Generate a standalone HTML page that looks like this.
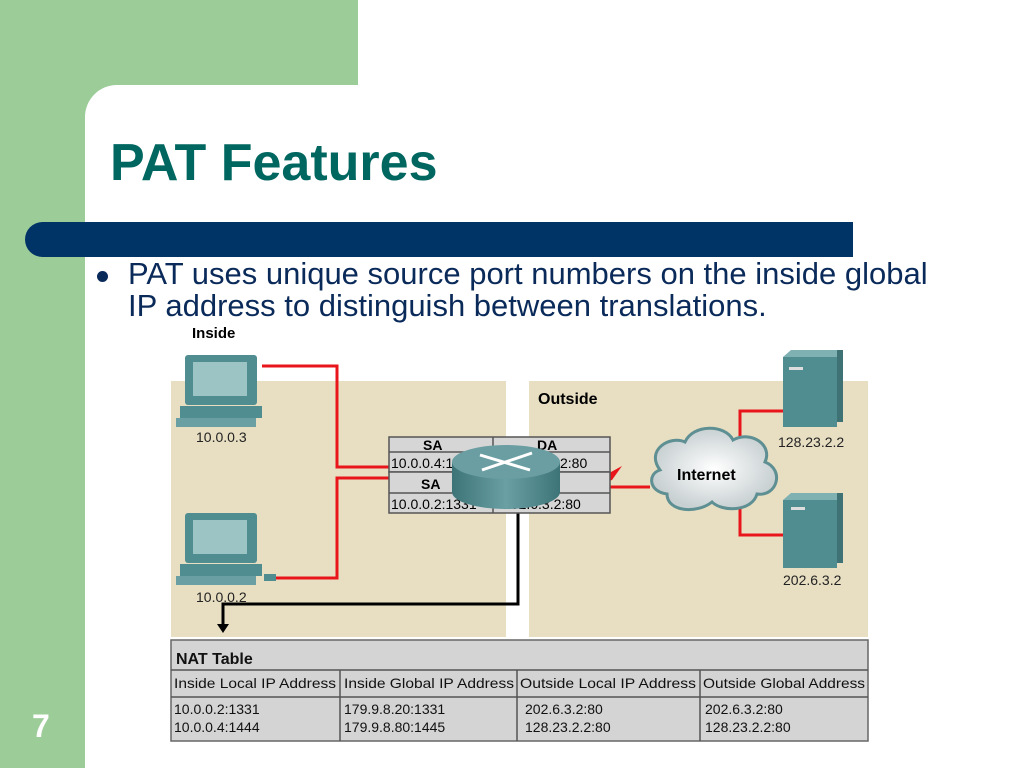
<!DOCTYPE html>
<html><head><meta charset="utf-8"><style>
body{margin:0;width:1024px;height:768px;overflow:hidden;background:#fff;font-family:"Liberation Sans",sans-serif;position:relative}
.a{position:absolute}
</style></head><body>
<div class="a" style="left:0;top:0;width:85px;height:768px;background:#9ccc98"></div>
<div class="a" style="left:0;top:0;width:358px;height:85px;background:#9ccc98"></div>
<div class="a" style="left:85px;top:85px;width:40px;height:40px;background:#9ccc98"></div>
<div class="a" style="left:85px;top:85px;width:60px;height:60px;background:#fff;border-top-left-radius:32px"></div>
<div class="a" style="left:110px;top:133px;font-size:52px;font-weight:bold;color:#006660">PAT Features</div>
<div class="a" style="left:25px;top:222px;width:828px;height:35px;background:#003366;border-radius:18px 0 0 18px"></div>
<div class="a" style="left:97px;top:271px;width:11px;height:11px;border-radius:50%;background:#0a2a5a"></div>
<div class="a" style="left:128px;top:258px;font-size:31px;line-height:32px;color:#0a2a5a;white-space:nowrap">PAT uses unique source port numbers on the inside global<br>IP address to distinguish between translations.</div>
<div class="a" style="left:32px;top:708px;font-size:32px;font-weight:bold;color:#fff">7</div>
<svg class="a" style="left:0;top:0" width="1024" height="768" font-family="Liberation Sans, sans-serif">
<rect x="171" y="381" width="335" height="256" fill="#e8dfc3"/>
<rect x="529" y="381" width="339" height="256" fill="#e8dfc3"/>
<text x="192" y="338" font-size="15" font-weight="bold">Inside</text>
<text x="538" y="404" font-size="16" font-weight="bold">Outside</text>
<g stroke="#e8161b" stroke-width="3" fill="none">
<polyline points="262,366 337,366 337,467 392,467"/>
<polyline points="275,578 337,578 337,478 392,478"/>
<polyline points="610,487 650,487"/>
<polyline points="740,445 740,411 785,411"/>
<polyline points="740,505 740,535 785,535"/>
</g>
<polygon points="600,478 622,466 612,480 606,482" fill="#e8161b"/>
<polyline points="518,513 518,604 223,604 223,628" stroke="#000" stroke-width="3" fill="none"/>
<polygon points="217,624 229,624 223,633" fill="#000"/>
<g stroke="#555" stroke-width="1.5">
<rect x="389" y="437" width="221" height="35" fill="#d6d6d6"/>
<rect x="389" y="472" width="221" height="41" fill="#d6d6d6"/>
<line x1="389" y1="452" x2="610" y2="452"/><line x1="389" y1="493" x2="610" y2="493"/>
<line x1="493" y1="437" x2="493" y2="513"/>
</g>
<g font-size="14" fill="#000">
<text x="423" y="450" font-weight="bold">SA</text><text x="537" y="450" font-weight="bold">DA</text>
<text x="391" y="468">10.0.0.4:1444</text><text x="560" y="468">2:80</text>
<text x="421" y="489" font-weight="bold">SA</text>
<text x="391" y="509">10.0.0.2:1331</text><text x="503" y="509">202.6.3.2:80</text>
</g>
<defs><linearGradient id="rg" x1="0" x2="1"><stop offset="0" stop-color="#3d7478"/><stop offset=".5" stop-color="#6aa0a4"/><stop offset="1" stop-color="#3d7478"/></linearGradient>
<radialGradient id="cg"><stop offset="0" stop-color="#fff"/><stop offset="1" stop-color="#c8d0d2"/></radialGradient></defs>
<path d="M452,462 v30 a54,17 0 0 0 108,0 v-30 z" fill="url(#rg)"/>
<ellipse cx="506" cy="462" rx="54" ry="17" fill="#6b9ea2"/>
<g stroke="#fff" stroke-width="3"><line x1="480" y1="455" x2="530" y2="470"/><line x1="532" y1="453" x2="482" y2="470"/></g>
<g fill="url(#cg)" stroke="#5e8f92" stroke-width="3">
<path d="M660,470 c-15,-20 10,-35 25,-28 c8,-18 40,-18 48,-2 c18,-10 40,5 32,22 c20,8 12,35 -8,32 c-5,18 -35,18 -45,8 c-15,12 -45,10 -45,-8 c-18,-2 -20,-20 -7,-24 z"/>
</g>
<text x="677" y="480" font-size="16" font-weight="bold">Internet</text>
<g fill="#4f8d90">
<rect x="185" y="355" width="72" height="50" rx="3"/><rect x="193" y="362" width="54" height="34" fill="#9cc4c4"/>
<rect x="180" y="406" width="82" height="12"/><rect x="176" y="418" width="80" height="9" fill="#6aa0a3"/>
<rect x="185" y="513" width="72" height="50" rx="3"/><rect x="193" y="520" width="54" height="34" fill="#9cc4c4"/>
<rect x="180" y="564" width="82" height="12"/><rect x="176" y="576" width="80" height="9" fill="#6aa0a3"/>
<rect x="264" y="574" width="12" height="7"/>
<rect x="783" y="357" width="54" height="70"/><polygon points="783,357 791,350 843,350 837,357" fill="#7fb0b2"/><rect x="837" y="350" width="6" height="72" fill="#3f7275"/>
<rect x="783" y="500" width="54" height="68"/><polygon points="783,500 791,493 843,493 837,500" fill="#7fb0b2"/><rect x="837" y="493" width="6" height="70" fill="#3f7275"/>
</g>
<rect x="789" y="367" width="14" height="3" fill="#ddd"/><rect x="791" y="507" width="14" height="3" fill="#ddd"/>
<g font-size="14" fill="#222">
<text x="196" y="442">10.0.0.3</text><text x="196" y="602">10.0.0.2</text>
<text x="778" y="447">128.23.2.2</text><text x="783" y="585">202.6.3.2</text>
</g>
<rect x="171" y="640" width="697" height="101" fill="#d4d4d4" stroke="#666" stroke-width="1.5"/>
<g stroke="#555" stroke-width="1.5">
<line x1="171" y1="670" x2="868" y2="670"/><line x1="171" y1="697" x2="868" y2="697"/>
<line x1="340" y1="670" x2="340" y2="741"/><line x1="517" y1="670" x2="517" y2="741"/><line x1="700" y1="670" x2="700" y2="741"/>
</g>
<g font-size="14" fill="#111">
<text x="176" y="664" font-size="16" font-weight="bold">NAT Table</text>
<text x="174" y="688" textLength="162" lengthAdjust="spacingAndGlyphs">Inside Local IP Address</text>
<text x="344" y="688" textLength="170" lengthAdjust="spacingAndGlyphs">Inside Global IP Address</text>
<text x="520" y="688" textLength="176" lengthAdjust="spacingAndGlyphs">Outside Local IP Address</text>
<text x="703" y="688" textLength="162" lengthAdjust="spacingAndGlyphs">Outside Global Address</text>
<text x="174" y="714">10.0.0.2:1331</text><text x="344" y="714">179.9.8.20:1331</text><text x="525" y="714">202.6.3.2:80</text><text x="705" y="714">202.6.3.2:80</text>
<text x="174" y="732">10.0.0.4:1444</text><text x="344" y="732">179.9.8.80:1445</text><text x="525" y="732">128.23.2.2:80</text><text x="705" y="732">128.23.2.2:80</text>
</g>
</svg>
</body></html>
